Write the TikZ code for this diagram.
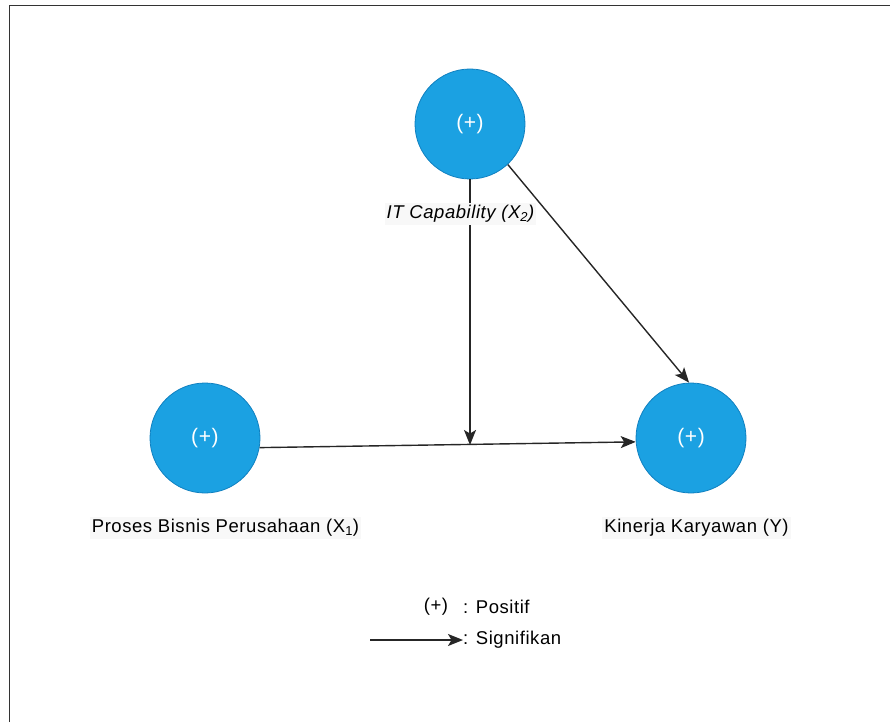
\documentclass[tikz,border=0pt]{standalone}
\usepackage{fontspec}
\setmainfont{Liberation Sans}
\newfontfamily\labelfont[LetterSpace=3]{Liberation Sans}
\usetikzlibrary{arrows.meta}
\definecolor{varfill}{HTML}{1BA1E2}
\definecolor{varline}{HTML}{1080C0}
\definecolor{labelbg}{HTML}{F8F8F8}
\tikzset{
  varnode/.style={circle, minimum size=110pt, inner sep=0pt, fill=varfill,
    draw=varline, line width=0.8pt, text=white,
    font=\labelfont\fontsize{21}{25}\selectfont},
  vartext/.style={fill=labelbg, inner sep=2pt, text=black,
    font=\labelfont\fontsize{18.5}{22}\selectfont},
  legendtext/.style={inner sep=0pt, text=black,
    font=\labelfont\fontsize{18.5}{22}\selectfont},
  path/.style={line width=1.4pt, draw=black!85,
    -{Stealth[length=15pt,width=12pt,inset=3.5pt]}},
}
\begin{document}
\begin{tikzpicture}[x=1pt,y=-1pt]
  \useasboundingbox (0,0) rectangle (890,722);
  % frame
  \draw[line width=1.5pt, black!80] (9.5,722) -- (9.5,5.5) -- (890,5.5);

  % constructs
  \node[varnode] (x2) at (470,124) {(+)};
  \node[varnode] (x1) at (205,438) {(+)};
  \node[varnode] (y)  at (691,438) {(+)};

  % paths
  \coordinate (meet) at (470,445);
  \draw[path] (x1.-10) -- (y.184);
  \draw[path] (x2.south) -- (meet);
  \draw[path] (x2.-47) -- (y.92);

  % construct labels
  \node[vartext] (lx2) at (460.5,214) {\itshape IT Capability (X\textsubscript{2})};
  \node[vartext] (lx1) at (225.5,528) {Proses Bisnis Perusahaan (X\textsubscript{1})};
  \node[vartext] (ly)  at (696.5,528) {Kinerja Karyawan (Y)};

  % legend
  \node[legendtext] (lgplus) at (436,607) {(+)};
  \node[legendtext, anchor=west] (lgpos) at (463,607) {: Positif};
  \node[legendtext, anchor=west] (lgsig) at (463,640) {: Signifikan};
  \coordinate (lgstart) at (370,640);
  \draw[path] (lgstart) -- (lgsig.west);
\end{tikzpicture}
\end{document}
